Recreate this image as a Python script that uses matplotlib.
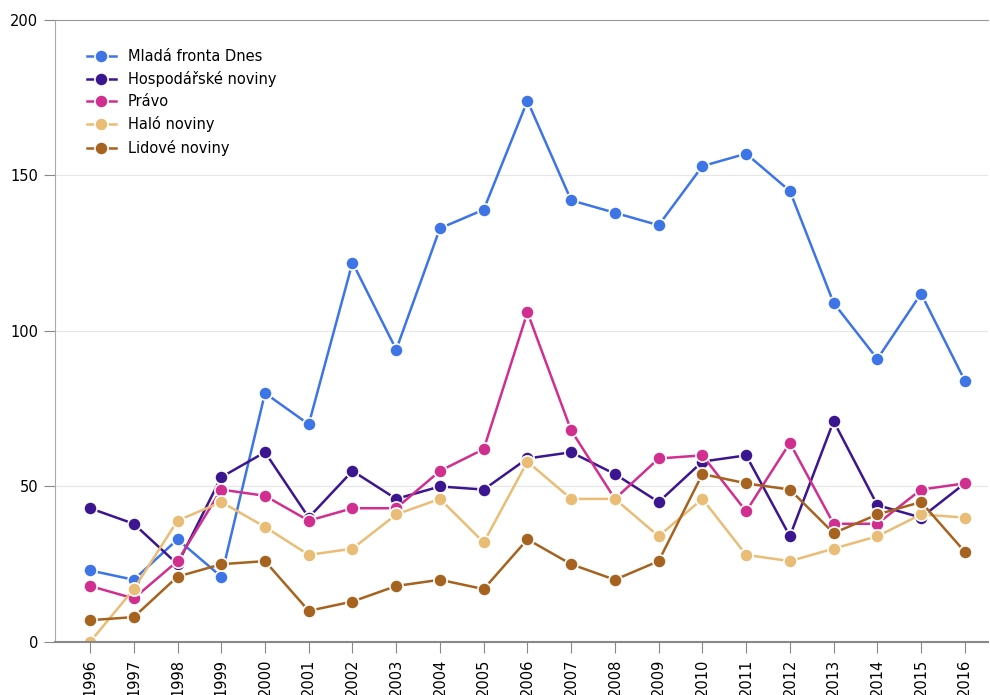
import matplotlib.pyplot as plt

years = list(range(1996, 2017))

mlada_fronta = [23, 20, 33, 21, 80, 70, 122, 94, 133, 139, 174, 142, 138, 134, 153, 157, 145, 109, 91, 112, 84]
hospodarske = [43, 38, 25, 53, 61, 40, 55, 46, 50, 49, 59, 61, 54, 45, 58, 60, 34, 71, 44, 40, 51]
pravo = [18, 14, 26, 49, 47, 39, 43, 43, 55, 62, 106, 68, 46, 59, 60, 42, 64, 38, 38, 49, 51]
halo = [0, 17, 39, 45, 37, 28, 30, 41, 46, 32, 58, 46, 46, 34, 46, 28, 26, 30, 34, 41, 40]
lidove = [7, 8, 21, 25, 26, 10, 13, 18, 20, 17, 33, 25, 20, 26, 54, 51, 49, 35, 41, 45, 29]

series = [
    ('Mladá fronta Dnes', mlada_fronta, '#3d74e6'),
    ('Hospodářské noviny', hospodarske, '#3b1690'),
    ('Právo', pravo, '#d02f8f'),
    ('Haló noviny', halo, '#eabd76'),
    ('Lidové noviny', lidove, '#a6621f'),
]

fig = plt.figure(figsize=(9.9, 6.95), dpi=100)
ax = fig.add_axes([0.0556, 0.0763, 0.9424, 0.895])

for name, vals, col in series:
    ax.plot(years, vals, color=col, lw=1.8, marker='o', markersize=9.5,
            markeredgecolor='white', markeredgewidth=1.2, label=name)

ax.set_xlim(1995.2, 2016.53)
ax.set_ylim(0, 200)
ax.set_yticks([0, 50, 100, 150, 200])
ax.set_xticks(years)
ax.set_xticklabels([str(y) for y in years], rotation=90, fontsize=10.5)
ax.tick_params(axis='y', labelsize=10.5, length=8, color='#888888', pad=4)
ax.tick_params(axis='x', length=8, color='#888888', pad=4)
ax.grid(axis='y', color='#e6e6e6', lw=0.8)
ax.set_axisbelow(True)
ax.spines['right'].set_visible(False)
ax.spines['top'].set_color('#999999')
ax.spines['left'].set_color('#aaaaaa')
ax.spines['bottom'].set_color('#888888')
ax.spines['bottom'].set_linewidth(1.5)

ax.legend(loc='upper left', bbox_to_anchor=(0.02, 0.975), frameon=False,
          fontsize=10.5, handlelength=2.0, labelspacing=0.5)

fig.savefig('out.png')
